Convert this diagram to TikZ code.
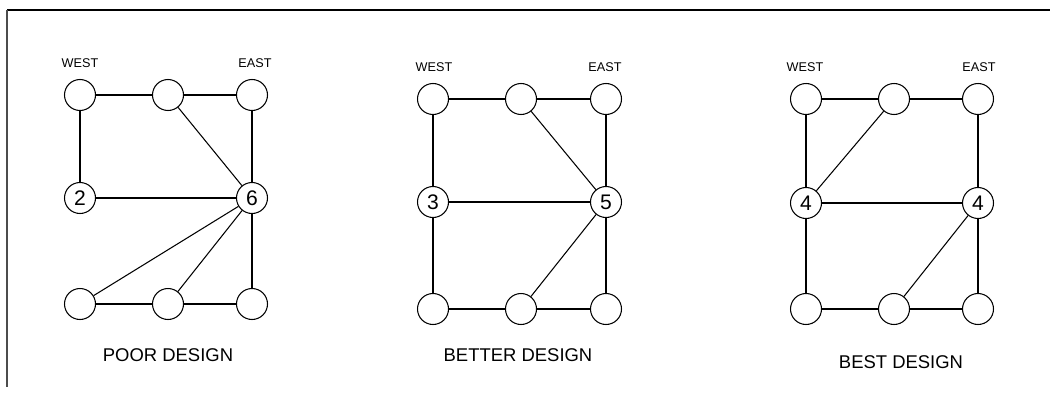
\documentclass[tikz,border=0pt]{standalone}
\usepackage{fontspec}
\setmainfont{Liberation Sans}

\begin{document}
\begin{tikzpicture}[x=0.02cm, y=-0.02cm, line width=0.6pt,
  vtx/.style={draw, circle, inner sep=0pt, minimum size=0.62cm,
    font=\fontsize{12}{12}\selectfont},
  side/.style={font=\fontsize{7.2}{7.2}\selectfont},
  title/.style={font=\fontsize{10.5}{10.5}\selectfont}]
  \useasboundingbox (0,0) rectangle (1050,395);
  % frame: top and left edges
  \coordinate (F0) at (7,10);
  \coordinate (F1) at (1050,10);
  \coordinate (F2) at (7,387);
  \draw (F0) -- (F1);
  \draw[black!70] (F0) -- (F2);
  % poor design
  \node[vtx] (P1) at (80,95) {};
  \node[vtx] (P2) at (168,95) {};
  \node[vtx] (P3) at (252,95) {};
  \node[vtx] (P4) at (80,198) {2};
  \node[vtx] (P6) at (252,198) {6};
  \node[vtx] (P7) at (80,304) {};
  \node[vtx] (P8) at (168,304) {};
  \node[vtx] (P9) at (252,304) {};
  \draw (P1) -- (P2) -- (P3) -- (P6) -- (P9) -- (P8) -- (P7);
  \draw (P1) -- (P4) -- (P6);
  \draw (P2) -- (P6);
  \draw (P6) -- (P7);
  \draw (P6) -- (P8);
  \node[side] at (80,63) {WEST};
  \node[side] at (255,63) {EAST};
  \node[title] at (168,355) {POOR DESIGN};
  % better design
  \node[vtx] (Q1) at (433,99) {};
  \node[vtx] (Q2) at (521,99) {};
  \node[vtx] (Q3) at (606,99) {};
  \node[vtx] (Q4) at (433,202) {3};
  \node[vtx] (Q6) at (606,202) {5};
  \node[vtx] (Q7) at (433,309) {};
  \node[vtx] (Q8) at (521,309) {};
  \node[vtx] (Q9) at (606,309) {};
  \draw (Q1) -- (Q2) -- (Q3) -- (Q6) -- (Q9) -- (Q8) -- (Q7) -- (Q4) -- (Q1);
  \draw (Q4) -- (Q6);
  \draw (Q2) -- (Q6) -- (Q8);
  \node[side] at (434,67) {WEST};
  \node[side] at (605,67) {EAST};
  \node[title] at (518,355) {BETTER DESIGN};
  % best design
  \node[vtx] (R1) at (806,99) {};
  \node[vtx] (R2) at (894,99) {};
  \node[vtx] (R3) at (978,99) {};
  \node[vtx] (R4) at (806,203) {4};
  \node[vtx] (R6) at (978,203) {4};
  \node[vtx] (R7) at (806,309) {};
  \node[vtx] (R8) at (894,309) {};
  \node[vtx] (R9) at (978,309) {};
  \draw (R1) -- (R2) -- (R3) -- (R6) -- (R9) -- (R8) -- (R7) -- (R4) -- (R1);
  \draw (R4) -- (R6);
  \draw (R2) -- (R4);
  \draw (R6) -- (R8);
  \node[side] at (805,67) {WEST};
  \node[side] at (979,67) {EAST};
  \node[title] at (901,362) {BEST DESIGN};
\end{tikzpicture}
\end{document}
